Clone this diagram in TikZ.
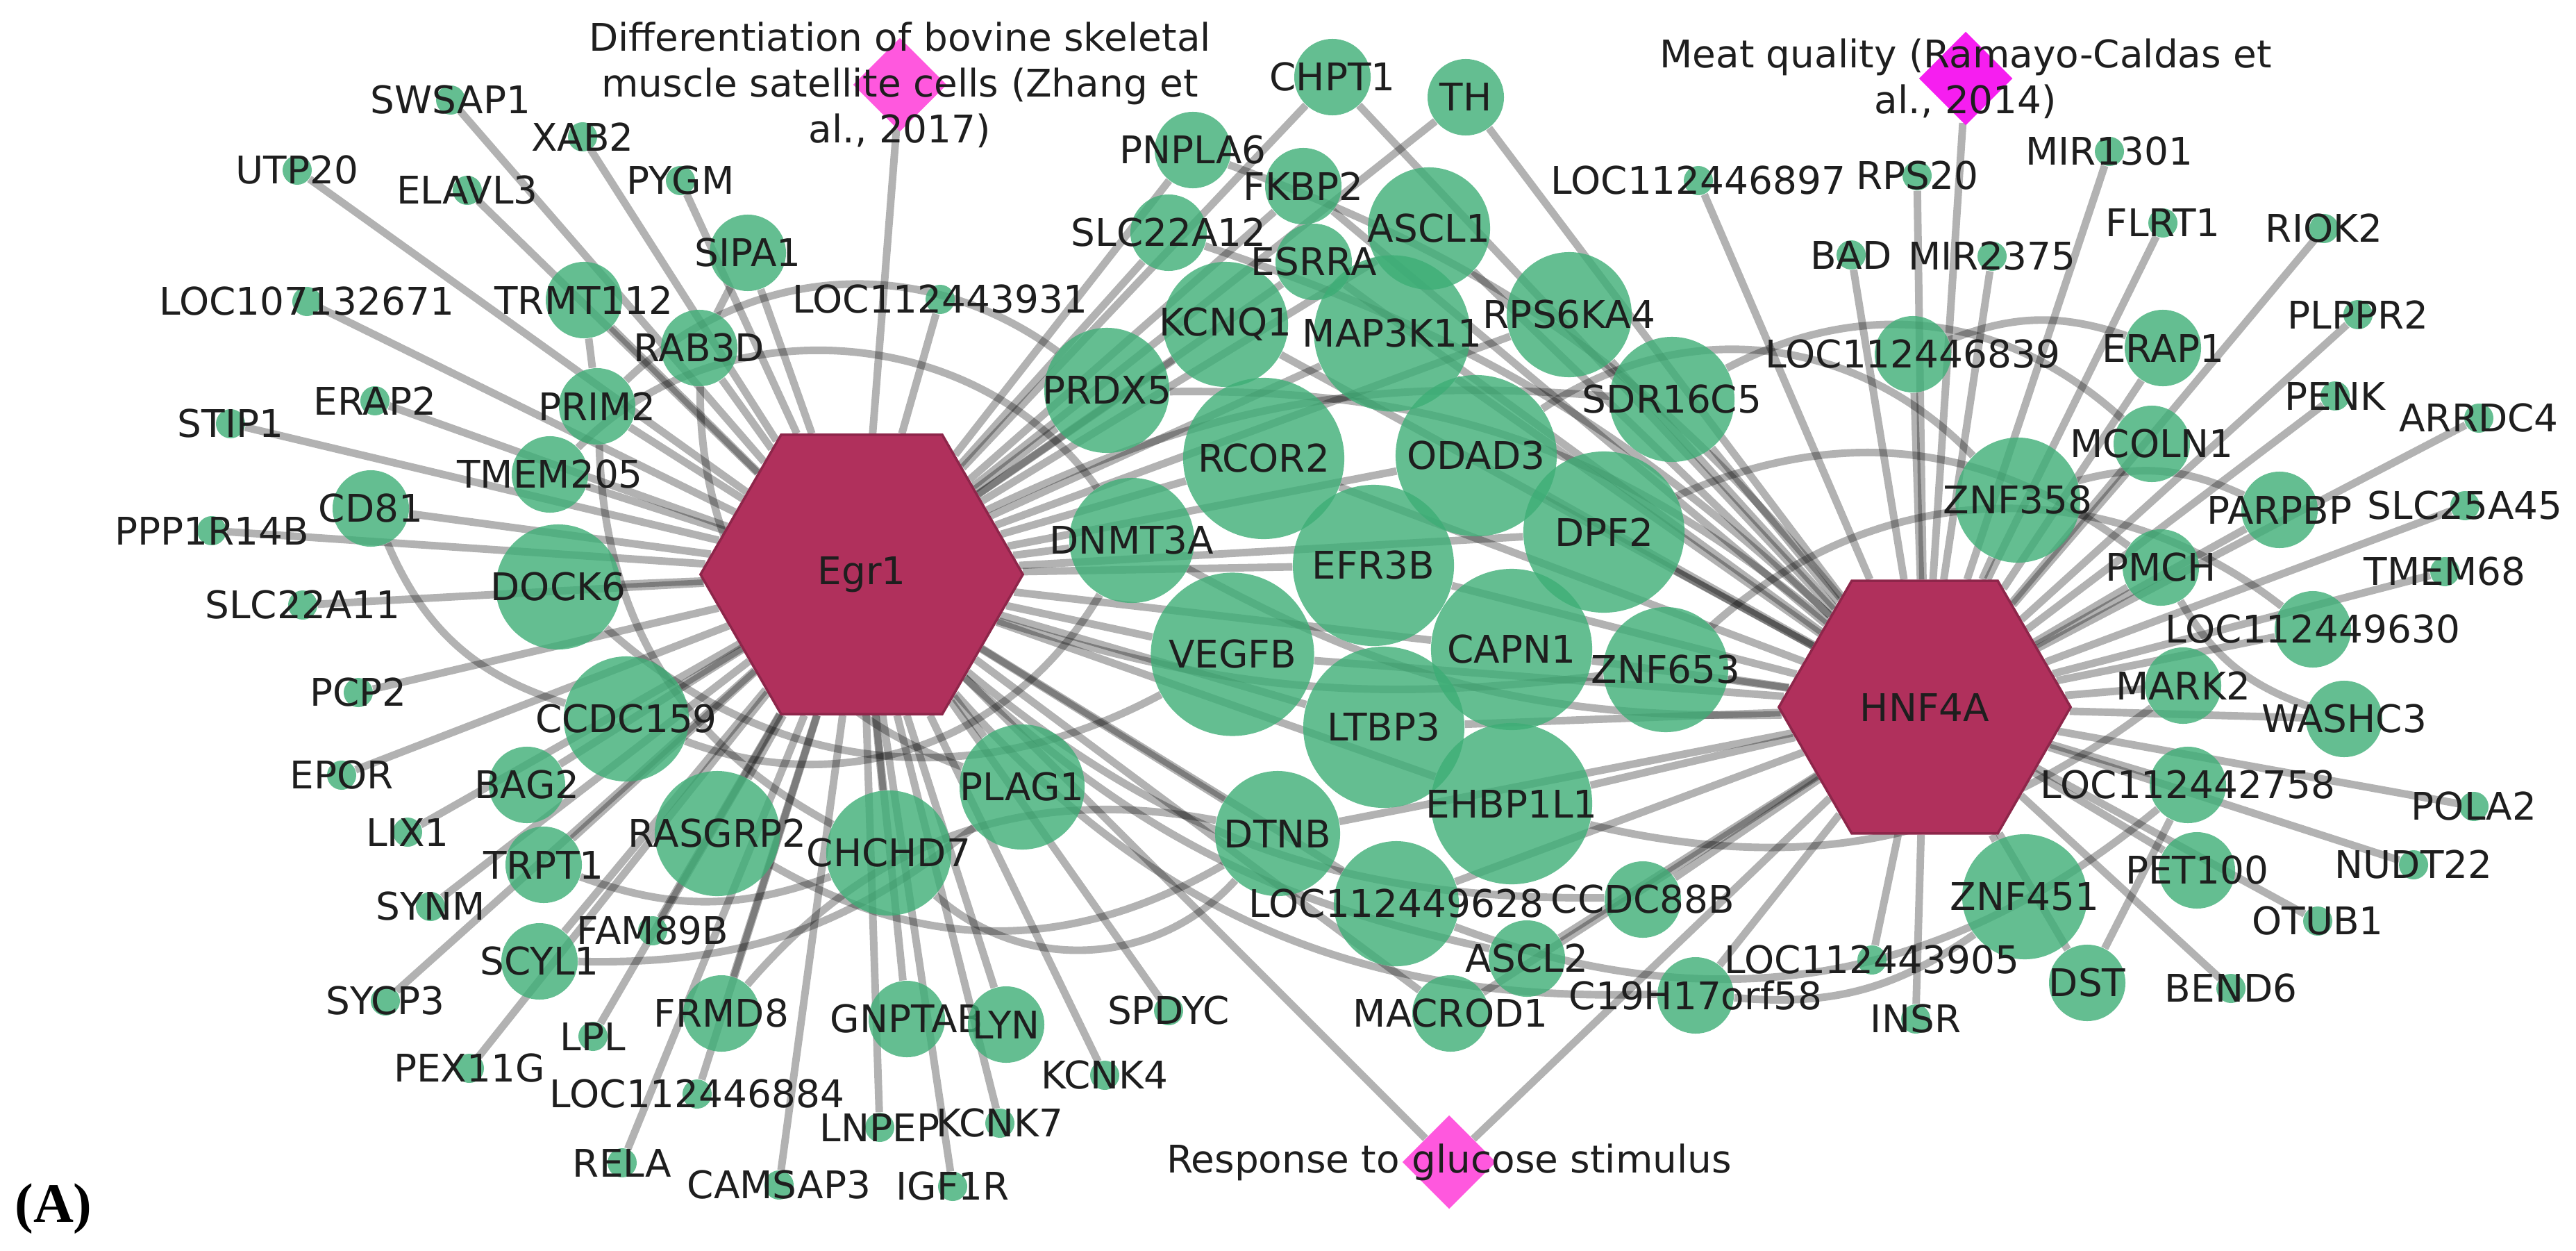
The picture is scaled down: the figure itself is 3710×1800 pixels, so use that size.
\documentclass[tikz,border=0pt]{standalone}
\usepackage{fontspec}
\setsansfont{DejaVu Sans}
\newfontfamily\panelfont{Liberation Serif}
\usetikzlibrary{shapes.geometric,backgrounds}

\definecolor{genegreen}{RGB}{61,174,118}
\definecolor{hubred}{RGB}{176,48,92}
\definecolor{termpink}{RGB}{255,88,222}
\definecolor{termmag}{RGB}{246,30,240}
\definecolor{labeltext}{RGB}{30,30,30}

\newcommand{\genefont}{\sffamily\fontsize{15.6}{18.8}\selectfont}

\tikzset{
  gene/.style={circle, fill=genegreen, fill opacity=0.8, text opacity=1, inner sep=0pt},
  tinygene/.style={gene, minimum size=0.42cm},
  midgene/.style={gene, minimum size=1.1cm},
  biggene/.style={gene, minimum size=1.8cm},
  hugegene/.style={gene, minimum size=2.32cm},
  hub/.style={regular polygon, regular polygon sides=6, fill=hubred, draw=hubred!80!black,
    line width=1pt, inner sep=0pt, text=labeltext, font=\genefont},
  term/.style={diamond, fill=termpink, minimum width=1.35cm, minimum height=1.35cm, inner sep=0pt},
  link/.style={draw=black, opacity=0.3, line width=3.1pt},
  every label/.style={font=\genefont, text=labeltext, text opacity=1, inner sep=0pt}
}

\begin{document}
\begin{tikzpicture}[x=0.01cm,y=0.01cm]
   \useasboundingbox (0,0) rectangle (3710,-1800);

   % hubs and terms
   \node[hub, minimum size=4.64cm] (egr1) at (1241,-827) {Egr1};
   \node[hub, minimum size=4.2cm] (hnf4a) at (2772,-1018) {HNF4A};
   \node[term, label={[align=center]center:{Differentiation of bovine skeletal\\muscle satellite cells (Zhang et\\al., 2017)}}] (zhang) at (1296,-122) {};
   \node[term, fill=termmag, label={[align=center]center:{Meat quality (Ramayo-Caldas et\\al., 2014)}}] (meat) at (2831,-113) {};
   \node[term, label=center:Response to glucose stimulus] (glucose) at (2087,-1673) {};

   % core genes
   \node[hugegene, minimum size=2.25cm, label=center:MAP3K11] (map3k11) at (2005,-480) {};
   \node[hugegene, label=center:RCOR2] (rcor2) at (1820,-660) {};
   \node[hugegene, label=center:ODAD3] (odad3) at (2126,-656) {};
   \node[hugegene, label=center:EFR3B] (efr3b) at (1978,-814) {};
   \node[hugegene, label=center:DPF2] (dpf2) at (2310,-766) {};
   \node[hugegene, minimum size=2.35cm, label=center:VEGFB] (vegfb) at (1775,-942) {};
   \node[hugegene, label=center:CAPN1] (capn1) at (2177,-935) {};
   \node[hugegene, label=center:LTBP3] (ltbp3) at (1993,-1047) {};
   \node[hugegene, label=center:EHBP1L1] (ehbp1l1) at (2177,-1157) {};

   \node[biggene, label=center:DOCK6] (dock6) at (804,-845) {};
   \node[biggene, label=center:CCDC159] (ccdc159) at (902,-1035) {};
   \node[biggene, label=center:RASGRP2] (rasgrp2) at (1033,-1200) {};
   \node[biggene, label=center:CHCHD7] (chchd7) at (1280,-1228) {};
   \node[biggene, label=center:PLAG1] (plag1) at (1472,-1133) {};
   \node[biggene, label=center:DNMT3A] (dnmt3a) at (1630,-778) {};
   \node[biggene, label=center:PRDX5] (prdx5) at (1594,-562) {};
   \node[biggene, label=center:KCNQ1] (kcnq1) at (1765,-467) {};
   \node[biggene, minimum size=1.76cm, label=center:ASCL1] (ascl1) at (2058,-329) {};
   \node[biggene, label=center:RPS6KA4] (rps6ka4) at (2260,-453) {};
   \node[biggene, label=center:SDR16C5] (sdr16c5) at (2408,-575) {};
   \node[biggene, label=center:ZNF653] (znf653) at (2399,-964) {};
   \node[biggene, label=center:DTNB] (dtnb) at (1840,-1200) {};
   \node[biggene, label=center:LOC112449628] (loc112449628) at (2011,-1301) {};
   \node[biggene, label=center:ZNF358] (znf358) at (2906,-720) {};
   \node[biggene, label=center:ZNF451] (znf451) at (2916,-1291) {};

   % medium genes
   \node[midgene, label=center:TRMT112] (trmt112) at (841,-432) {};
   \node[midgene, label=center:SIPA1] (sipa1) at (1077,-364) {};
   \node[midgene, label=center:RAB3D] (rab3d) at (1007,-501) {};
   \node[midgene, label=center:PRIM2] (prim2) at (860,-585) {};
   \node[midgene, label=center:TMEM205] (tmem205) at (792,-683) {};
   \node[midgene, label=center:CD81] (cd81) at (534,-732) {};
   \node[midgene, label=center:BAG2] (bag2) at (759,-1130) {};
   \node[midgene, label=center:TRPT1] (trpt1) at (783,-1245) {};
   \node[midgene, label=center:SCYL1] (scyl1) at (777,-1384) {};
   \node[midgene, label=center:FRMD8] (frmd8) at (1039,-1459) {};
   \node[midgene, label=center:GNPTAB] (gnptab) at (1306,-1467) {};
   \node[midgene, label=center:LYN] (lyn) at (1449,-1475) {};
   \node[midgene, label=center:PNPLA6] (pnpla6) at (1718,-216) {};
   \node[midgene, label=center:CHPT1] (chpt1) at (1919,-111) {};
   \node[midgene, label=center:TH] (th) at (2111,-140) {};
   \node[midgene, label=center:FKBP2] (fkbp2) at (1877,-268) {};
   \node[midgene, label=center:SLC22A12] (slc22a12) at (1683,-335) {};
   \node[midgene, label=center:ESRRA] (esrra) at (1892,-377) {};
   \node[midgene, label=center:CCDC88B] (ccdc88b) at (2366,-1295) {};
   \node[midgene, label=center:ASCL2] (ascl2) at (2199,-1380) {};
   \node[midgene, label=center:MACROD1] (macrod1) at (2089,-1459) {};
   \node[midgene, label=center:C19H17orf58] (c19h17orf58) at (2442,-1433) {};
   \node[midgene, label=center:LOC112446839] (loc112446839) at (2755,-510) {};
   \node[midgene, label=center:ERAP1] (erap1) at (3115,-501) {};
   \node[midgene, label=center:MCOLN1] (mcoln1) at (3099,-639) {};
   \node[midgene, label=center:PARPBP] (parpbp) at (3283,-734) {};
   \node[midgene, label=center:PMCH] (pmch) at (3112,-817) {};
   \node[midgene, label=center:LOC112449630] (loc112449630) at (3331,-906) {};
   \node[midgene, label=center:MARK2] (mark2) at (3144,-987) {};
   \node[midgene, label=center:WASHC3] (washc3) at (3376,-1035) {};
   \node[midgene, label=center:LOC112442758] (loc112442758) at (3151,-1130) {};
   \node[midgene, label=center:PET100] (pet100) at (3164,-1253) {};
   \node[midgene, label=center:DST] (dst) at (3006,-1415) {};

   % leaf genes
   \node[tinygene, label=center:SWSAP1] (swsap1) at (649,-144) {};
   \node[tinygene, label=center:XAB2] (xab2) at (839,-197) {};
   \node[tinygene, label=center:UTP20] (utp20) at (428,-245) {};
   \node[tinygene, label=center:ELAVL3] (elavl3) at (673,-274) {};
   \node[tinygene, label=center:PYGM] (pygm) at (980,-260) {};
   \node[tinygene, label=center:LOC107132671] (loc107132671) at (442,-434) {};
   \node[tinygene, label=center:LOC112443931] (loc112443931) at (1354,-431) {};
   \node[tinygene, label=center:ERAP2] (erap2) at (540,-577) {};
   \node[tinygene, label=center:STIP1] (stip1) at (332,-610) {};
   \node[tinygene, label=center:PPP1R14B] (ppp1r14b) at (305,-764) {};
   \node[tinygene, label=center:SLC22A11] (slc22a11) at (436,-871) {};
   \node[tinygene, label=center:PCP2] (pcp2) at (516,-997) {};
   \node[tinygene, label=center:EPOR] (epor) at (492,-1116) {};
   \node[tinygene, label=center:LIX1] (lix1) at (587,-1198) {};
   \node[tinygene, label=center:SYNM] (synm) at (620,-1305) {};
   \node[tinygene, label=center:FAM89B] (fam89b) at (940,-1340) {};
   \node[tinygene, label=center:SYCP3] (sycp3) at (555,-1441) {};
   \node[tinygene, label=center:LPL] (lpl) at (854,-1492) {};
   \node[tinygene, label=center:PEX11G] (pex11g) at (676,-1538) {};
   \node[tinygene, label=center:LOC112446884] (loc112446884) at (1004,-1575) {};
   \node[tinygene, label=center:RELA] (rela) at (896,-1674) {};
   \node[tinygene, label=center:CAMSAP3] (camsap3) at (1122,-1706) {};
   \node[tinygene, label=center:LNPEP] (lnpep) at (1267,-1623) {};
   \node[tinygene, label=center:KCNK7] (kcnk7) at (1440,-1617) {};
   \node[tinygene, label=center:IGF1R] (igf1r) at (1372,-1708) {};
   \node[tinygene, label=center:KCNK4] (kcnk4) at (1591,-1548) {};
   \node[tinygene, label=center:SPDYC] (spdyc) at (1683,-1455) {};
   \node[tinygene, label=center:LOC112446897] (loc112446897) at (2446,-260) {};
   \node[tinygene, label=center:RPS20] (rps20) at (2761,-253) {};
   \node[tinygene, label=center:MIR1301] (mir1301) at (3038,-218) {};
   \node[tinygene, label=center:BAD] (bad) at (2666,-367) {};
   \node[tinygene, label=center:MIR2375] (mir2375) at (2869,-369) {};
   \node[tinygene, label=center:FLRT1] (flrt1) at (3115,-321) {};
   \node[tinygene, label=center:RIOK2] (riok2) at (3347,-329) {};
   \node[tinygene, label=center:PLPPR2] (plppr2) at (3396,-453) {};
   \node[tinygene, label=center:PENK] (penk) at (3363,-570) {};
   \node[tinygene, label=center:ARRDC4] (arrdc4) at (3570,-602) {};
   \node[tinygene, label=center:SLC25A45] (slc25a45) at (3550,-728) {};
   \node[tinygene, label=center:TMEM68] (tmem68) at (3521,-823) {};
   \node[tinygene, label=center:POLA2] (pola2) at (3563,-1161) {};
   \node[tinygene, label=center:NUDT22] (nudt22) at (3476,-1245) {};
   \node[tinygene, label=center:OTUB1] (otub1) at (3338,-1326) {};
   \node[tinygene, label=center:BEND6] (bend6) at (3213,-1423) {};
   \node[tinygene, label=center:LOC112443905] (loc112443905) at (2696,-1382) {};
   \node[tinygene, label=center:INSR] (insr) at (2759,-1467) {};

   \node[font=\panelfont\bfseries\fontsize{22.8}{24}\selectfont] (panel) at (77,-1740) {(A)};

   \begin{scope}[on background layer]
   % Egr1 neighbours
   \path[link] (egr1) edge (swsap1) edge (xab2) edge (utp20) edge (elavl3) edge (pygm)
     edge (sipa1) edge (loc107132671) edge (trmt112) edge (rab3d) edge (loc112443931)
     edge (stip1) edge (erap2) edge (prim2) edge (tmem205) edge (cd81) edge (ppp1r14b)
     edge (dock6) edge (slc22a11) edge (pcp2) edge (ccdc159) edge (epor) edge (bag2)
     edge (lix1) edge (rasgrp2) edge (trpt1) edge (synm) edge (fam89b) edge (scyl1)
     edge (sycp3) edge (lpl) edge (pex11g) edge (frmd8) edge (loc112446884) edge (rela)
     edge (camsap3) edge (lnpep) edge (kcnk7) edge (igf1r) edge (gnptab) edge (lyn)
     edge (kcnk4) edge (spdyc) edge (chchd7) edge (plag1) edge (zhang) edge (glucose);
   % HNF4A neighbours
   \path[link] (hnf4a) edge (loc112446897) edge (rps20) edge (mir1301) edge (bad)
     edge (mir2375) edge (flrt1) edge (riok2) edge (loc112446839) edge (erap1)
     edge (plppr2) edge (penk) edge (arrdc4) edge (mcoln1) edge (znf358) edge (parpbp)
     edge (slc25a45) edge (pmch) edge (tmem68) edge (loc112449630) edge (mark2)
     edge (washc3) edge (loc112442758) edge (pola2) edge (pet100) edge (nudt22)
     edge (otub1) edge (znf451) edge (dst) edge (bend6) edge (loc112443905) edge (insr)
     edge (meat) edge (glucose);
   % shared core
   \path[link] (egr1) edge (pnpla6) edge (chpt1) edge (th) edge (fkbp2) edge (slc22a12)
     edge (esrra) edge (ascl1) edge (kcnq1) edge (map3k11) edge (rps6ka4) edge (prdx5)
     edge[bend left=15] (sdr16c5) edge (rcor2) edge (odad3) edge (dnmt3a) edge (dpf2)
     edge (efr3b) edge (vegfb) edge (capn1) edge[bend right=12] (znf653) edge (ltbp3)
     edge (ehbp1l1) edge (dtnb) edge (loc112449628) edge[bend right=20] (ccdc88b)
     edge[bend right=15] (ascl2) edge (macrod1) edge[bend right=25] (c19h17orf58);
   \path[link] (hnf4a) edge[bend right=15] (pnpla6) edge (chpt1) edge (th) edge (fkbp2)
     edge[bend right=12] (slc22a12) edge (esrra) edge (ascl1) edge (kcnq1) edge (map3k11)
     edge (rps6ka4) edge[bend right=20] (prdx5) edge (sdr16c5) edge (rcor2) edge (odad3)
     edge[bend left=15] (dnmt3a) edge (dpf2) edge (efr3b) edge (vegfb) edge (capn1)
     edge (znf653) edge (ltbp3) edge (ehbp1l1) edge (dtnb) edge (loc112449628)
     edge (ccdc88b) edge (ascl2) edge (macrod1) edge (c19h17orf58);
   % other links
   \path[link] (trmt112) edge (prim2)
     (sipa1) edge (rab3d)
     (cd81) edge[bend right=25] (ccdc159)
     (dst) edge (loc112442758)
     (loc112446839) edge[bend left=20] (erap1)
     (prim2) edge[bend left=40] (prdx5)
     (tmem205) edge[bend left=50] (dnmt3a)
     (dock6) edge[bend right=35] (vegfb)
     (ccdc159) edge[bend right=40] (dnmt3a)
     (prim2) edge[bend right=30] (chchd7)
     (rab3d) edge[bend right=35] (plag1)
     (rasgrp2) edge[bend right=30] (dtnb)
     (chchd7) edge[bend right=45] (dtnb)
     (frmd8) edge[bend left=30] (dtnb)
     (trpt1) edge[bend right=20] (chchd7)
     (scyl1) edge[bend right=20] (plag1)
     (znf358) edge[bend right=40] (odad3)
     (mcoln1) edge[bend right=35] (sdr16c5)
     (pmch) edge[bend right=30] (dpf2)
     (loc112449630) edge[bend right=40] (znf653)
     (mark2) edge[bend left=25] (ehbp1l1)
     (loc112442758) edge[bend left=30] (loc112449628)
     (znf451) edge[bend left=20] (c19h17orf58)
     (parpbp) edge[bend right=20] (znf358)
     (washc3) edge[bend left=20] (pmch);
   \end{scope}

\end{tikzpicture}
\end{document}
